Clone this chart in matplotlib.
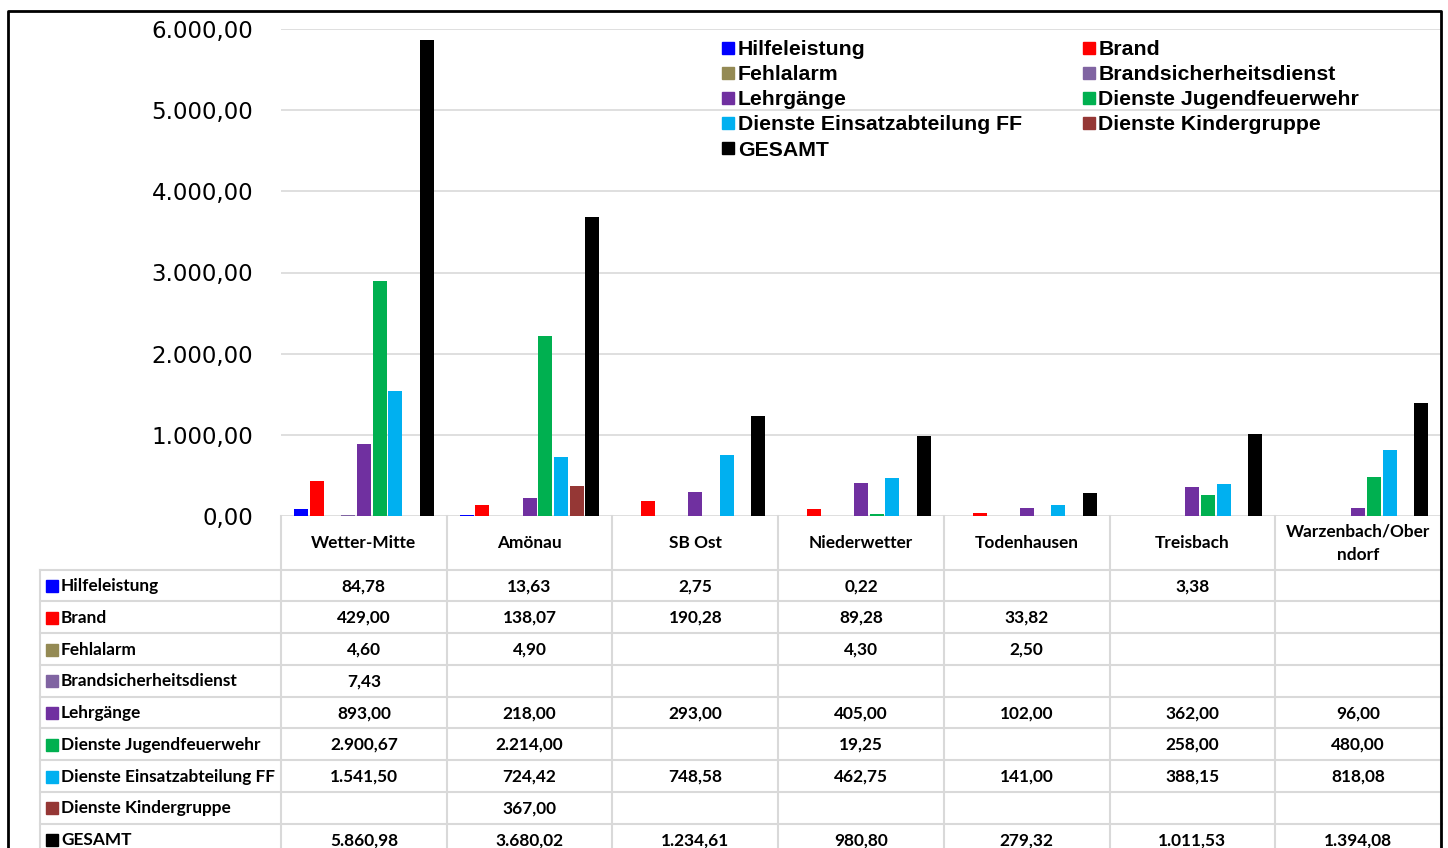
import matplotlib
matplotlib.use("Agg")
import matplotlib.pyplot as plt
import numpy as np
from matplotlib.lines import Line2D
from matplotlib.transforms import blended_transform_factory

nan = np.nan
orte = ['Wetter-Mitte', 'Amönau', 'SB Ost', 'Niederwetter', 'Todenhausen',
        'Treisbach', 'Warzenbach/Ober\nndorf']
reihen = ['Hilfeleistung', 'Brand', 'Fehlalarm', 'Brandsicherheitsdienst', 'Lehrgänge',
          'Dienste Jugendfeuerwehr', 'Dienste Einsatzabteilung FF',
          'Dienste Kindergruppe', 'GESAMT']
farben = ['#0000FF', '#FF0000', '#948A54', '#8064A2', '#7030A0',
          '#00B050', '#00B0F0', '#953735', '#000000']

hilfeleistung = [84.78, 13.63, 2.75, 0.22, nan, 3.38, nan]
brand = [429.00, 138.07, 190.28, 89.28, 33.82, nan, nan]
fehlalarm = [4.60, 4.90, nan, 4.30, 2.50, nan, nan]
bsd = [7.43, nan, nan, nan, nan, nan, nan]
lehrgaenge = [893.00, 218.00, 293.00, 405.00, 102.00, 362.00, 96.00]
jugend = [2900.67, 2214.00, nan, 19.25, nan, 258.00, 480.00]
einsatz = [1541.50, 724.42, 748.58, 462.75, 141.00, 388.15, 818.08]
kinder = [nan, 367.00, nan, nan, nan, nan, nan]
gesamt = [5860.98, 3680.02, 1234.61, 980.80, 279.32, 1011.53, 1394.08]
werte = [hilfeleistung, brand, fehlalarm, bsd, lehrgaenge, jugend, einsatz, kinder, gesamt]

yticks = [0, 1000, 2000, 3000, 4000, 5000, 6000]


def de(v):
    s = f"{v:,.2f}"
    return s.replace(',', 'X').replace('.', ',').replace('X', '.')


W, H = 1448, 848
fig = plt.figure(figsize=(W / 100, H / 100), dpi=100)


def fx(x):
    return x / W


def fy(y):
    return 1 - y / H


ax = fig.add_axes([fx(281), fy(516), (1441 - 281) / W, (516 - 29) / H])
x = np.arange(len(orte))
step = 15.75 / 166
bw = 14 / 166
for j, (name, vals, c) in enumerate(zip(reihen, werte, farben)):
    ax.bar(x + (j - 4) * step, vals, width=bw, color=c, label=name, zorder=3)

ax.set_xlim(-0.5, len(orte) - 0.5)
ax.set_ylim(0, 6000)
ax.set_yticks(yticks)
ax.set_yticklabels([de(v) for v in yticks], fontsize=16.5, family='DejaVu Sans')
ax.tick_params(axis='y', length=0, pad=20)
ax.tick_params(axis='x', length=0, labelbottom=False)
ax.grid(axis='y', color='#d9d9d9', linewidth=1.2, zorder=0)
for s in ax.spines.values():
    s.set_visible(False)

# legend (Excel order row by row -> matplotlib fills columns)
order = [0, 2, 4, 6, 8, 1, 3, 5, 7]
handles = [Line2D([], [], marker='s', linestyle='', markersize=8, color=farben[i])
           for i in order]
ax.legend(handles, [reihen[i] for i in order], ncol=2, loc='upper left',
          bbox_to_anchor=(fx(723), fy(40)), bbox_transform=fig.transFigure,
          frameon=False, borderpad=0, borderaxespad=0,
          prop={'family': 'Liberation Sans', 'weight': 'bold', 'size': 15.3},
          handlelength=0.5, handletextpad=0.2, columnspacing=2.9, labelspacing=0.29)

# data table
grid_c = '#d9d9d9'
tr = blended_transform_factory(ax.transData, fig.transFigure)
row_top = 569.5
row_h = 31.75
tfont = {'family': 'Lato', 'weight': 'bold', 'size': 12.4}

bounds = np.arange(len(orte) + 1) - 0.5
for b in bounds:
    fig.add_artist(Line2D([b, b], [fy(516), 0], transform=tr, color=grid_c, lw=1.5))
fig.add_artist(Line2D([fx(40), fx(40)], [fy(row_top), 0], color=grid_c, lw=1.5))
for k in range(len(reihen) + 1):
    yy = fy(row_top + k * row_h)
    fig.add_artist(Line2D([fx(40), fx(1442)], [yy, yy], color=grid_c, lw=1.5))

for i, name in enumerate(orte):
    fig.text(i, fy(543), name, transform=tr, ha='center', va='center',
             linespacing=1.6, **tfont)

for r, (name, vals, c) in enumerate(zip(reihen, werte, farben)):
    yc = fy(row_top + (r + 0.5) * row_h + 0.8)
    fig.add_artist(Line2D([fx(51.5)], [yc], marker='s', markersize=8, color=c,
                          linestyle=''))
    fig.text(fx(61), yc, name, ha='left', va='center', **tfont)
    for i, v in enumerate(vals):
        if not np.isnan(v):
            fig.text(i, yc, de(v), transform=tr, ha='center', va='center', **tfont)

# outer frame
fig.add_artist(Line2D([fx(8), fx(8), fx(1441), fx(1441)], [0, fy(11), fy(11), 0],
                      color='black', lw=2))

fig.savefig('out.png', dpi=100)
